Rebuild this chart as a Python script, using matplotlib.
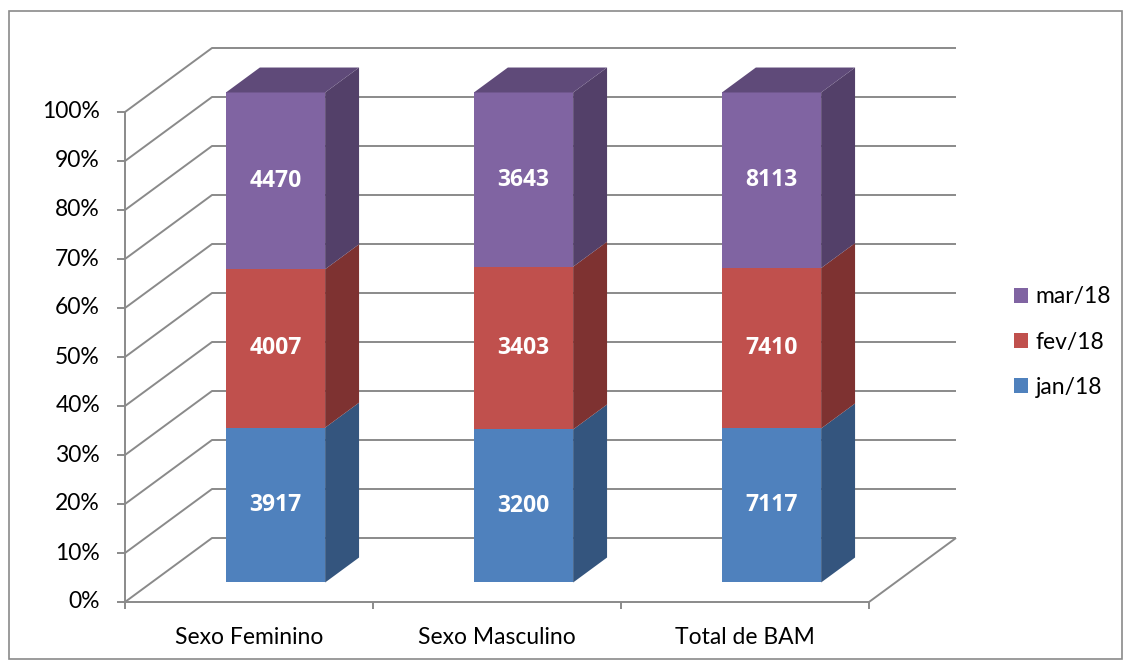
"""3D-style 100% stacked column chart (jan/fev/mar 18) by sex."""

import matplotlib
matplotlib.use("Agg")
import matplotlib.pyplot as plt
from matplotlib.patches import Polygon, Rectangle, Patch
import numpy as np

# ---- data -------------------------------------------------------------
categories = ["Sexo Feminino", "Sexo Masculino", "Total de BAM"]
series_names = ["jan/18", "fev/18", "mar/18"]
jan18 = [3917, 3200, 7117]
fev18 = [4007, 3403, 7410]
mar18 = [4470, 3643, 8113]
y_ticks = [0, 10, 20, 30, 40, 50, 60, 70, 80, 90, 100]

# ---- style ------------------------------------------------------------
FRONT = ["#4F81BD", "#C0504D", "#8064A2"]
SIDE = ["#34557E", "#7E3231", "#534069"]
TOP = ["#3E6394", "#933B39", "#5F4A79"]
GRID = "#8A8A8A"
FONT = ["Lato", "DejaVu Sans"]
BOLD_FONT = ["Open Sans", "DejaVu Sans"]
FS = 16.5

plt.rcParams["font.family"] = FONT

W, H = 1131, 666
fig = plt.figure(figsize=(W / 100, H / 100), dpi=100)

# axes box = front plane of the 3D plot
ax = fig.add_axes([125 / W, (H - 602) / H, 744 / W, 490 / H])
ax.set_xlim(0, len(categories))
ax.set_ylim(0, 100)
ax.axis("off")

# depth vector (in data units) for the oblique projection
DX = 87 / 248
DY = 64 / 4.9


def proj(x, y, f):
    return (x + f * DX, y + f * DY)


def line(pts, **kw):
    xs, ys = zip(*pts)
    ax.plot(xs, ys, color=GRID, lw=1.4, clip_on=False, solid_capstyle="butt", **kw)


# gridlines: left wall diagonal + back wall horizontal
ncat = len(categories)
for v in y_ticks:
    line([proj(0, v, 0), proj(0, v, 1), proj(ncat, v, 1)], zorder=1)

# floor front and right edges, y axis
line([proj(0, 0, 0), proj(ncat, 0, 0), proj(ncat, 0, 1)], zorder=1)
line([(0, 0), (0, 100)], zorder=1)
for v in y_ticks:
    line([(0, v), (-8 / 248, v)], zorder=1)
    ax.text(-25 / 248, v, f"{v}%", ha="right", va="center", fontsize=FS,
            color="black")
for i in range(ncat + 1):
    line([(i, 0), (i, -7 / 4.9)], zorder=1)
for i, c in enumerate(categories):
    ax.text(i + 0.5, -35 / 4.9, c, ha="center", va="center", fontsize=FS,
            color="black")

# bars
values = np.array([jan18, fev18, mar18], dtype=float)
totals = values.sum(axis=0)
pct = values / totals * 100
half_w = 0.2
f0, f1 = 0.305, 0.695
for i in range(ncat):
    x0 = i + 0.5 - half_w
    x1 = i + 0.5 + half_w
    base = 0.0
    for s in range(len(series_names)):
        top = base + pct[s, i]
        front = [proj(x0, base, f0), proj(x1, base, f0), proj(x1, top, f0), proj(x0, top, f0)]
        side = [proj(x1, base, f0), proj(x1, base, f1), proj(x1, top, f1), proj(x1, top, f0)]
        ax.add_patch(Polygon(side, closed=True, facecolor=SIDE[s], edgecolor="none",
                             clip_on=False, zorder=3))
        ax.add_patch(Polygon(front, closed=True, facecolor=FRONT[s], edgecolor="none",
                             clip_on=False, zorder=4))
        cx, cy = proj(i + 0.5, (base + top) / 2, f0)
        ax.text(cx, cy, f"{int(values[s, i])}", ha="center", va="center",
                fontsize=16.5, fontweight="bold", family=BOLD_FONT,
                color="white", zorder=6)
        base = top
    s = len(series_names) - 1
    lid = [proj(x0, base, f0), proj(x1, base, f0), proj(x1, base, f1), proj(x0, base, f1)]
    ax.add_patch(Polygon(lid, closed=True, facecolor=TOP[s], edgecolor="none",
                         clip_on=False, zorder=5))

# legend
handles = [Patch(facecolor=FRONT[s], edgecolor="none", label=series_names[s])
           for s in reversed(range(len(series_names)))]
fig.legend(handles=handles, loc="center left", bbox_to_anchor=(1014 / W, 1 - 342 / H),
           frameon=False, fontsize=FS, handlelength=0.62, handleheight=0.62,
           handletextpad=0.32, labelspacing=1.05, borderpad=0, borderaxespad=0)

# chart border
fig.patches.append(Rectangle((9 / W, 1 - 659 / H), 1113 / W, 648 / H,
                             transform=fig.transFigure, fill=False,
                             edgecolor="#8A8A8A", lw=1.2))

fig.savefig("out.png", dpi=100)
